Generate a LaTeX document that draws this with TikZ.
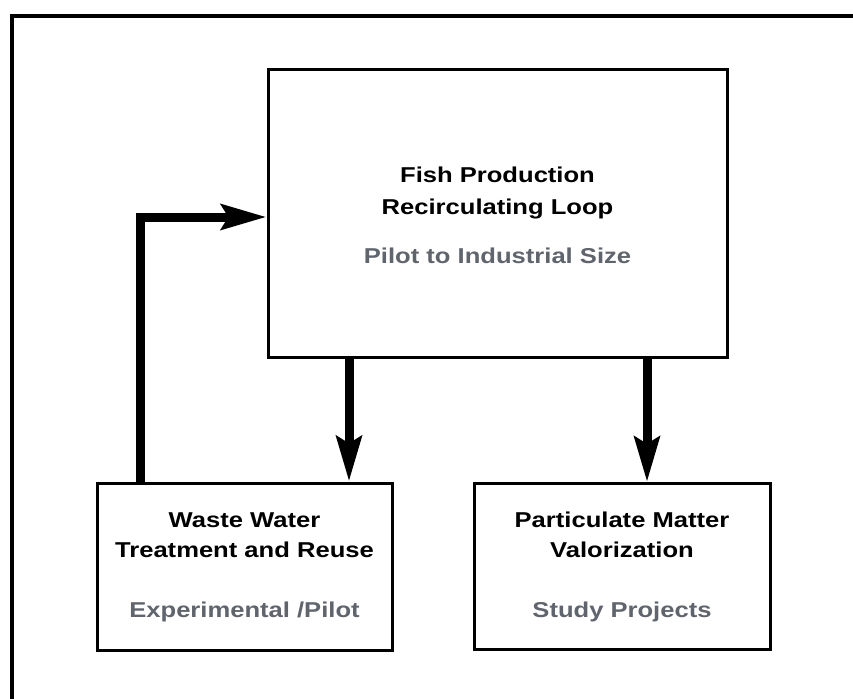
\documentclass[tikz,border=0pt]{standalone}
\usepackage{fontspec}
\setmainfont{Liberation Sans}
\newfontfamily\labfont[FakeStretch=1.19]{Liberation Sans}
\usetikzlibrary{arrows.meta}
\definecolor{subgray}{RGB}{96,100,108}
\begin{document}
\begin{tikzpicture}[x=1pt,y=-1pt,
  boxst/.style={draw=black, line width=3pt, fill=white, inner sep=0pt},
  titlest/.style={anchor=base, inner sep=0pt, font=\labfont\fontsize{21.5}{26}\selectfont\bfseries, text=black},
  subst/.style={anchor=base, inner sep=0pt, font=\labfont\fontsize{21.5}{26}\selectfont\bfseries, text=subgray},
  bigarrow/.style={line width=9pt, draw=black, -{Stealth[length=45pt, width=25pt, inset=7pt]}}]
\useasboundingbox (0,0) rectangle (853,698);
\clip (0,0) rectangle (853,698);
\fill[white] (0,0) rectangle (853,698);
% outer frame (runs off the right and bottom edges)
\draw[line width=4pt, line join=miter] (870,16) -- (12,16) -- (12,720);
% boxes
\node[boxst, minimum width=459pt, minimum height=287pt] (top) at (497.5,213.5) {};
\node[boxst, minimum width=295pt, minimum height=167pt] (ww) at (244.5,566.5) {};
\node[boxst, minimum width=296pt, minimum height=166pt] (pm) at (622,566.5) {};
% texts
\node[titlest] (t1) at (497.5,182) {Fish Production};
\node[titlest] (t2) at (497.5,214) {Recirculating Loop};
\node[subst] (t3) at (497.5,263) {Pilot to Industrial Size};
\node[titlest] (w1) at (244.5,527) {Waste Water};
\node[titlest] (w2) at (244.5,557) {Treatment and Reuse};
\node[subst] (w3) at (244.5,617) {Experimental /Pilot};
\node[titlest] (p1) at (622,527) {Particulate Matter};
\node[titlest] (p2) at (622,557) {Valorization};
\node[subst] (p3) at (622,617) {Study Projects};
% connectors
\coordinate (ax1) at (349,0);
\coordinate (ax2) at (647,0);
\coordinate (fbx) at (140,0);
\coordinate (fby) at (0,217);
\draw[bigarrow] (ax1 |- top.south) -- (ax1 |- ww.north);
\draw[bigarrow] (ax2 |- top.south) -- (ax2 |- pm.north);
\draw[bigarrow, line join=miter] (fbx |- ww.north) -- (fbx |- fby) -- (top.west |- fby);
\end{tikzpicture}
\end{document}
